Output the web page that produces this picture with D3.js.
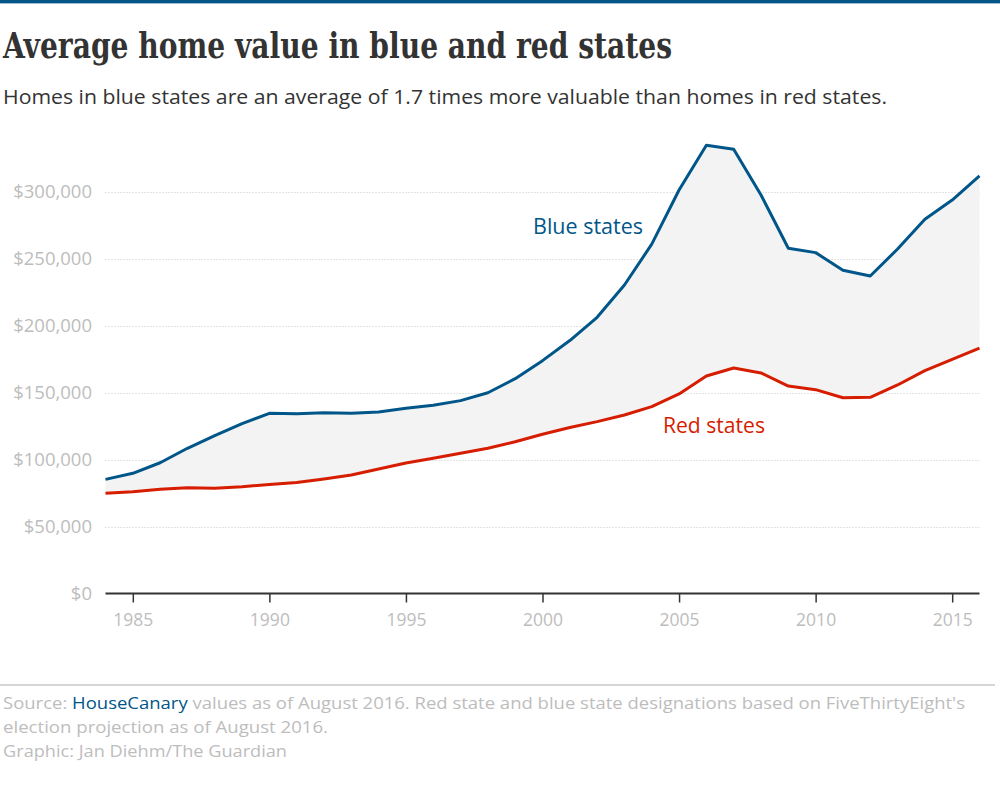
<!DOCTYPE html>
<html>
<head>
<meta charset="utf-8">
<script src="https://cdn.jsdelivr.net/npm/d3@7"></script>
<style>
  html, body { margin: 0; padding: 0; background: #fff; }
  svg { display: block; }
</style>
</head>
<body>
<svg id="chart" width="1000" height="800"></svg>
<script>
const years = [1984,1985,1986,1987,1988,1989,1990,1991,1992,1993,1994,1995,1996,1997,1998,1999,2000,2001,2002,2003,2004,2005,2006,2007,2008,2009,2010,2011,2012,2013,2014,2015,2016];
const blueStates = [85300,89800,97700,108500,118000,127000,134600,134400,135100,134600,135600,138400,140600,144100,150000,160500,174000,189000,206400,230500,261000,301500,335000,332000,297800,258000,254700,241500,237200,257400,279600,294000,312000];
const redStates = [74900,76100,77900,79100,78600,79800,81500,83000,85600,88500,93000,97500,101000,104800,108500,113400,119000,124000,128400,133400,139600,149100,162500,168500,164800,155000,152300,146300,146600,155800,166500,175000,183400];
const yTicks = [0,50000,100000,150000,200000,250000,300000];
const xTicks = [1985,1990,1995,2000,2005,2010,2015];

const titleText = "Average home value in blue and red states";
const subtitleText = "Homes in blue states are an average of 1.7 times more valuable than homes in red states.";
const seriesLabels = ["Blue states", "Red states"];

const BLUE = "#005689", RED = "#d61d00", GREY = "#bdbdbd";
const SANS = "'Open Sans', 'Noto Sans', sans-serif";

const svg = d3.select("#chart");

// top rule
svg.append("rect").attr("x",0).attr("y",0).attr("width",1000).attr("height",3).attr("fill",BLUE);
svg.append("rect").attr("x",0).attr("y",3).attr("width",1000).attr("height",1).attr("fill","#9fbcd3");

svg.append("text").attr("x",3).attr("y",58)
  .attr("font-family","'DejaVu Serif Condensed','DejaVu Serif',serif")
  .attr("font-weight","bold").attr("font-size",35).attr("fill","#333")
  .attr("textLength",669).attr("lengthAdjust","spacingAndGlyphs")
  .text(titleText);

svg.append("text").attr("x",3).attr("y",104)
  .attr("font-family",SANS).attr("font-size",20.5).attr("fill","#333")
  .attr("textLength",884).attr("lengthAdjust","spacingAndGlyphs")
  .text(subtitleText);

const x = d3.scaleLinear().domain([1984,2016]).range([105.5,979.5]);
const y = d3.scaleLinear().domain([0,300000]).range([593.5,192]);

const data = years.map((yr,i)=>({yr, b: blueStates[i], r: redStates[i]}));

// gridlines
const grid = svg.append("g");
grid.selectAll("line").data(yTicks.filter(d=>d>0)).join("line")
  .attr("x1",x(1984)).attr("x2",x(2016))
  .attr("y1",d=>Math.round(y(d))+0.5).attr("y2",d=>Math.round(y(d))+0.5)
  .attr("stroke","#c8c8c8").attr("stroke-width",1).attr("stroke-dasharray","1,2");

// y labels
const yAxis = d3.axisLeft(y).tickValues(yTicks).tickSize(0).tickPadding(0)
  .tickFormat(d=>"$"+d3.format(",")(d));
const gy = svg.append("g").attr("transform","translate(92,0)").call(yAxis);
gy.select(".domain").remove();
gy.selectAll("text").attr("font-family",SANS).attr("font-size",18.5).attr("fill",GREY);

// area between
svg.append("path").datum(data)
  .attr("d", d3.area().x(d=>x(d.yr)).y0(d=>y(d.r)).y1(d=>y(d.b)))
  .attr("fill","#f3f3f3");

// x axis
const xAxis = d3.axisBottom(x).tickValues(xTicks).tickSize(9).tickPadding(11).tickFormat(d3.format("d"));
const gx = svg.append("g").attr("transform",`translate(0,${y(0)})`).call(xAxis);
gx.select(".domain").attr("stroke","#333").attr("stroke-width",2).attr("d",`M${x(1984)},0H${x(2016)}`);
gx.selectAll(".tick line").attr("stroke","#333").attr("stroke-width",1.5);
gx.selectAll("text").attr("font-family",SANS).attr("font-size",17.5).attr("fill",GREY);

// lines
const line = key => d3.line().x(d=>x(d.yr)).y(d=>y(d[key]));
svg.append("path").datum(data).attr("d",line("r")).attr("fill","none")
  .attr("stroke",RED).attr("stroke-width",3).attr("stroke-linejoin","round");
svg.append("path").datum(data).attr("d",line("b")).attr("fill","none")
  .attr("stroke",BLUE).attr("stroke-width",3).attr("stroke-linejoin","round");

// labels
svg.append("text").attr("x",533).attr("y",234).attr("font-family",SANS).attr("font-size",21)
  .attr("fill",BLUE).attr("textLength",110).attr("lengthAdjust","spacingAndGlyphs").text(seriesLabels[0]);
svg.append("text").attr("x",663).attr("y",433).attr("font-family",SANS).attr("font-size",21)
  .attr("fill",RED).attr("textLength",102).attr("lengthAdjust","spacingAndGlyphs").text(seriesLabels[1]);

// footer
svg.append("rect").attr("x",0).attr("y",684).attr("width",995).attr("height",2).attr("fill","#d6d6d6");
const f1 = svg.append("text").attr("x",3).attr("y",709).attr("font-family",SANS).attr("font-size",17).attr("fill",GREY)
  .attr("textLength",962).attr("lengthAdjust","spacingAndGlyphs");
f1.append("tspan").text("Source: ");
f1.append("tspan").attr("fill",BLUE).text("HouseCanary");
f1.append("tspan").text(" values as of August 2016. Red state and blue state designations based on FiveThirtyEight's");
svg.append("text").attr("x",3).attr("y",733).attr("font-family",SANS).attr("font-size",17).attr("fill",GREY)
  .attr("textLength",325).attr("lengthAdjust","spacingAndGlyphs").text("election projection as of August 2016.");
svg.append("text").attr("x",3).attr("y",757).attr("font-family",SANS).attr("font-size",17).attr("fill",GREY)
  .attr("textLength",284).attr("lengthAdjust","spacingAndGlyphs").text("Graphic: Jan Diehm/The Guardian");
</script>
</body>
</html>
